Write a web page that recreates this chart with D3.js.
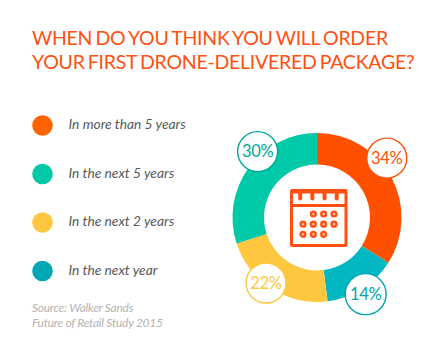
<!DOCTYPE html>
<html>
<head>
<meta charset="utf-8">
<script src="https://cdnjs.cloudflare.com/ajax/libs/d3/7.8.5/d3.min.js"></script>
<style>
    html, body { margin: 0; padding: 0; background: #fff; }
    svg { display: block; font-family: Lato, sans-serif; }
</style>
</head>
<body>
<div id="chart"></div>
<script>
const titleLines = ["WHEN DO YOU THINK YOU WILL ORDER", "YOUR FIRST DRONE-DELIVERED PACKAGE?"];
const sourceLines = ["Source: Walker Sands", "Future of Retail Study 2015"];

// slices, clockwise from 12 o'clock
const sliceNames = ["In more than 5 years", "In the next year", "In the next 2 years", "In the next 5 years"];
const sliceValues = [34, 14, 22, 30];
const sliceColors = ["#ff5000", "#00b7c2", "#ffc73f", "#00c9a7"];
const bubbleStrokes = ["#ff5000", "#00a5ad", "#ffc73f", "#00a896"];

// legend runs in a different order from the ring
const legendOrder = ["In more than 5 years", "In the next 5 years", "In the next 2 years", "In the next year"];
const legendColors = ["#ff6300", "#00c9a7", "#ffc73f", "#00a8b5"];

// calendar dots: week row, day column
const calendarRows = [0, 0, 0, 1, 1, 1, 1, 2, 2, 2];
const calendarCols = [1, 2, 3, 0, 1, 2, 3, 0, 1, 2];

const width = 441, height = 352;
const svg = d3.select("#chart").append("svg")
    .attr("width", width)
    .attr("height", height);

// title
svg.append("g").selectAll("text")
    .data(titleLines)
    .join("text")
    .attr("x", 32)
    .attr("y", (d, i) => 45 + i * 23.5)
    .attr("font-size", "19.5px")
    .attr("letter-spacing", "-0.25px")
    .attr("word-spacing", "-1.5px")
    .attr("fill", "#ff5010")
    .text(d => d);

// legend
const legendY = d3.scalePoint().domain(legendOrder).range([125.5, 271]);
const legendRow = svg.append("g").selectAll("g")
    .data(legendOrder)
    .join("g")
    .attr("transform", d => `translate(0,${legendY(d)})`);

legendRow.append("circle")
    .attr("cx", 42.5)
    .attr("r", 10.3)
    .attr("fill", (d, i) => legendColors[i]);

legendRow.append("text")
    .attr("x", 68.5)
    .attr("y", 3.5)
    .attr("font-size", "13.8px")
    .attr("font-style", "italic")
    .attr("fill", "#58595b")
    .text(d => d);

// source
svg.append("g").selectAll("text")
    .data(sourceLines)
    .join("text")
    .attr("x", 32)
    .attr("y", (d, i) => 311.5 + i * 15.3)
    .attr("font-size", "12px")
    .attr("font-style", "italic")
    .attr("letter-spacing", "-0.26px")
    .attr("fill", "#b5b3b3")
    .text(d => d);

// donut
const cx = 317, cy = 217.5, outerR = 84.5, innerR = 53;
const ring = svg.append("g").attr("transform", `translate(${cx},${cy})`);
const pie = d3.pie().sort(null).value(d => d);
const arc = d3.arc().innerRadius(innerR).outerRadius(outerR);
const arcs = pie(sliceValues);

ring.selectAll("path")
    .data(arcs)
    .join("path")
    .attr("d", arc)
    .attr("fill", (d, i) => sliceColors[i]);

// bubbles sit off the slice middle, nudged by hand to match
const bubbleNudge = [-11.6, 0, 5.5, 12];
const bubbleDist = [91.6, 90.8, 83, 88.7];
const bubbleR = [20, 20.5, 20, 20];

const bubble = ring.selectAll("g.bubble")
    .data(arcs)
    .join("g")
    .attr("class", "bubble")
    .attr("transform", (d, i) => {
        const a = (d.startAngle + d.endAngle) / 2 + bubbleNudge[i] * Math.PI / 180;
        return `translate(${d3.pointRadial(a, bubbleDist[i])})`;
    });

bubble.append("circle")
    .attr("r", (d, i) => bubbleR[i])
    .attr("fill", "#fff")
    .attr("stroke", (d, i) => bubbleStrokes[i])
    .attr("stroke-width", 1.4);

bubble.append("text")
    .attr("text-anchor", "middle")
    .attr("y", 5.8)
    .attr("font-size", "16.5px")
    .attr("letter-spacing", "-0.3px")
    .attr("fill", (d, i) => bubbleStrokes[i])
    .text(d => `${d.value}%`);

// calendar icon
const iconColor = "#ff5010";
const icon = svg.append("g").attr("transform", "translate(290,189)");

icon.append("rect")
    .attr("x", 1.5).attr("y", 1.5)
    .attr("width", 54.5).attr("height", 55)
    .attr("rx", 1)
    .attr("fill", "#fff")
    .attr("stroke", iconColor)
    .attr("stroke-width", 3);

icon.append("rect")
    .attr("x", 1).attr("y", 15)
    .attr("width", 55.5).attr("height", 3)
    .attr("fill", iconColor);

icon.append("rect")
    .attr("x", 1).attr("y", 0)
    .attr("width", 55.5).attr("height", 4.5)
    .attr("fill", iconColor);

// binder rings
const ringX = d3.scalePoint().domain([0, 1, 2, 3]).range([10.2, 46.7]);
icon.selectAll("line.binder")
    .data(ringX.domain())
    .join("line")
    .attr("class", "binder")
    .attr("x1", d => ringX(d)).attr("x2", d => ringX(d))
    .attr("y1", 2).attr("y2", 9.5)
    .attr("stroke", iconColor)
    .attr("stroke-width", 4)
    .attr("stroke-linecap", "round");

const dayX = d3.scalePoint().domain([0, 1, 2, 3]).range([13, 44]);
const dayY = d3.scalePoint().domain([0, 1, 2]).range([25, 45.3]);

icon.selectAll("circle.day")
    .data(calendarRows)
    .join("circle")
    .attr("class", "day")
    .attr("cx", (d, i) => dayX(calendarCols[i]))
    .attr("cy", d => dayY(d))
    .attr("r", 2.4)
    .attr("fill", "#ffd0b8")
    .attr("stroke", iconColor)
    .attr("stroke-width", 2.4);
</script>
</body>
</html>
